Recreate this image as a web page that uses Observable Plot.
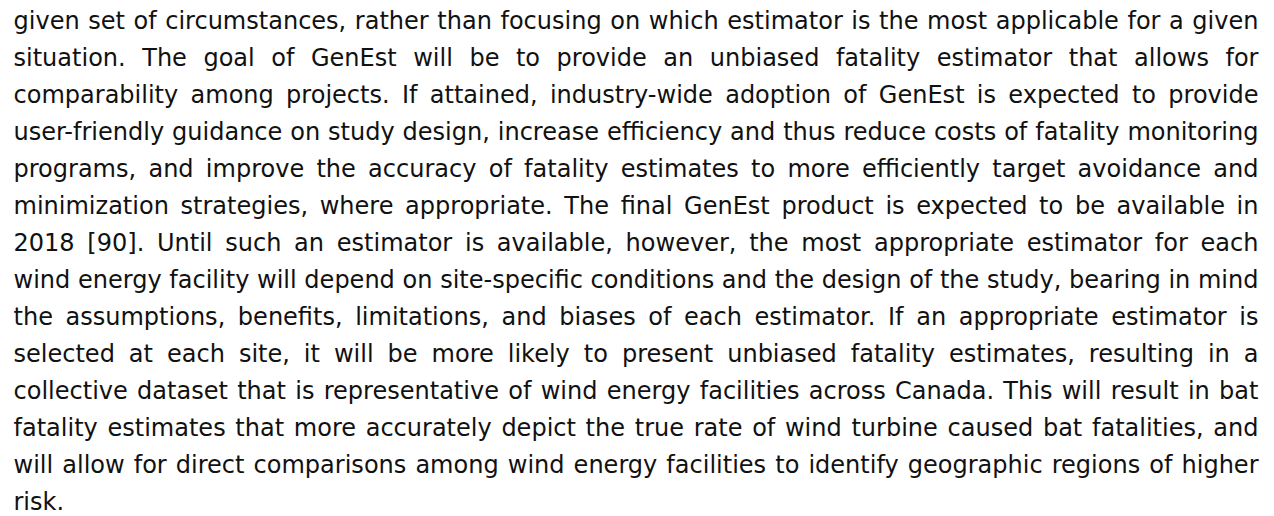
<!DOCTYPE html>
<html>
<head>
<meta charset="utf-8">
<script src="https://cdn.jsdelivr.net/npm/d3@7"></script>
<script src="https://cdn.jsdelivr.net/npm/@observablehq/plot@0.6"></script>
<style>
  html, body { margin: 0; padding: 0; background: #fff; }
  #chart svg { display: block; }
</style>
</head>
<body>
<div id="chart"></div>
<script>
const lines = [
  "given set of circumstances, rather than focusing on which estimator is the most applicable for a given",
  "situation. The goal of GenEst will be to provide an unbiased fatality estimator that allows for",
  "comparability among projects. If attained, industry-wide adoption of GenEst is expected to provide",
  "user-friendly guidance on study design, increase efficiency and thus reduce costs of fatality monitoring",
  "programs, and improve the accuracy of fatality estimates to more efficiently target avoidance and",
  "minimization strategies, where appropriate. The final GenEst product is expected to be available in",
  "2018 [90]. Until such an estimator is available, however, the most appropriate estimator for each",
  "wind energy facility will depend on site-specific conditions and the design of the study, bearing in mind",
  "the assumptions, benefits, limitations, and biases of each estimator. If an appropriate estimator is",
  "selected at each site, it will be more likely to present unbiased fatality estimates, resulting in a",
  "collective dataset that is representative of wind energy facilities across Canada. This will result in bat",
  "fatality estimates that more accurately depict the true rate of wind turbine caused bat fatalities, and",
  "will allow for direct comparisons among wind energy facilities to identify geographic regions of higher",
  "risk."
];

const W = 1274, H = 516, ML = 13, MR = 16;
const FIRST_BASELINE = 28, LEADING = 37;
const target = W - ML - MR;
const rows = lines.map((text, i) => ({text, i}));
const host = document.getElementById("chart");

function makeChart(fs) {
  const off = FIRST_BASELINE - 0.32 * fs;
  return Plot.plot({
    width: W,
    height: H,
    marginLeft: ML,
    marginRight: MR,
    marginTop: 0,
    marginBottom: 0,
    style: {background: "#fff", fontFamily: "'DejaVu Sans', Verdana, sans-serif"},
    x: {axis: null},
    y: {axis: null, type: "linear", domain: [0, lines.length - 1],
        range: [off, off + LEADING * (lines.length - 1)]},
    marks: [
      Plot.text(rows, {
        y: "i",
        frameAnchor: "left",
        textAnchor: "start",
        text: "text",
        fontSize: fs,
        fill: "#111"
      })
    ]
  });
}

// measure natural line lengths at a trial size, then size the font so the longest line fits
let chart = makeChart(20);
host.appendChild(chart);
let maxLen = 0;
chart.querySelectorAll("text").forEach(t => { maxLen = Math.max(maxLen, t.getComputedTextLength()); });
const fontSize = 20 * target / maxLen;
host.removeChild(chart);
chart = makeChart(fontSize);
host.appendChild(chart);

// justify all lines but the last
const texts = chart.querySelectorAll("text");
texts.forEach((t, k) => {
  if (k === texts.length - 1) return;
  const len = t.getComputedTextLength();
  const spaces = (t.textContent.match(/ /g) || []).length;
  if (spaces > 0) t.setAttribute("word-spacing", ((target - len) / spaces).toFixed(3));
});
</script>
</body>
</html>
